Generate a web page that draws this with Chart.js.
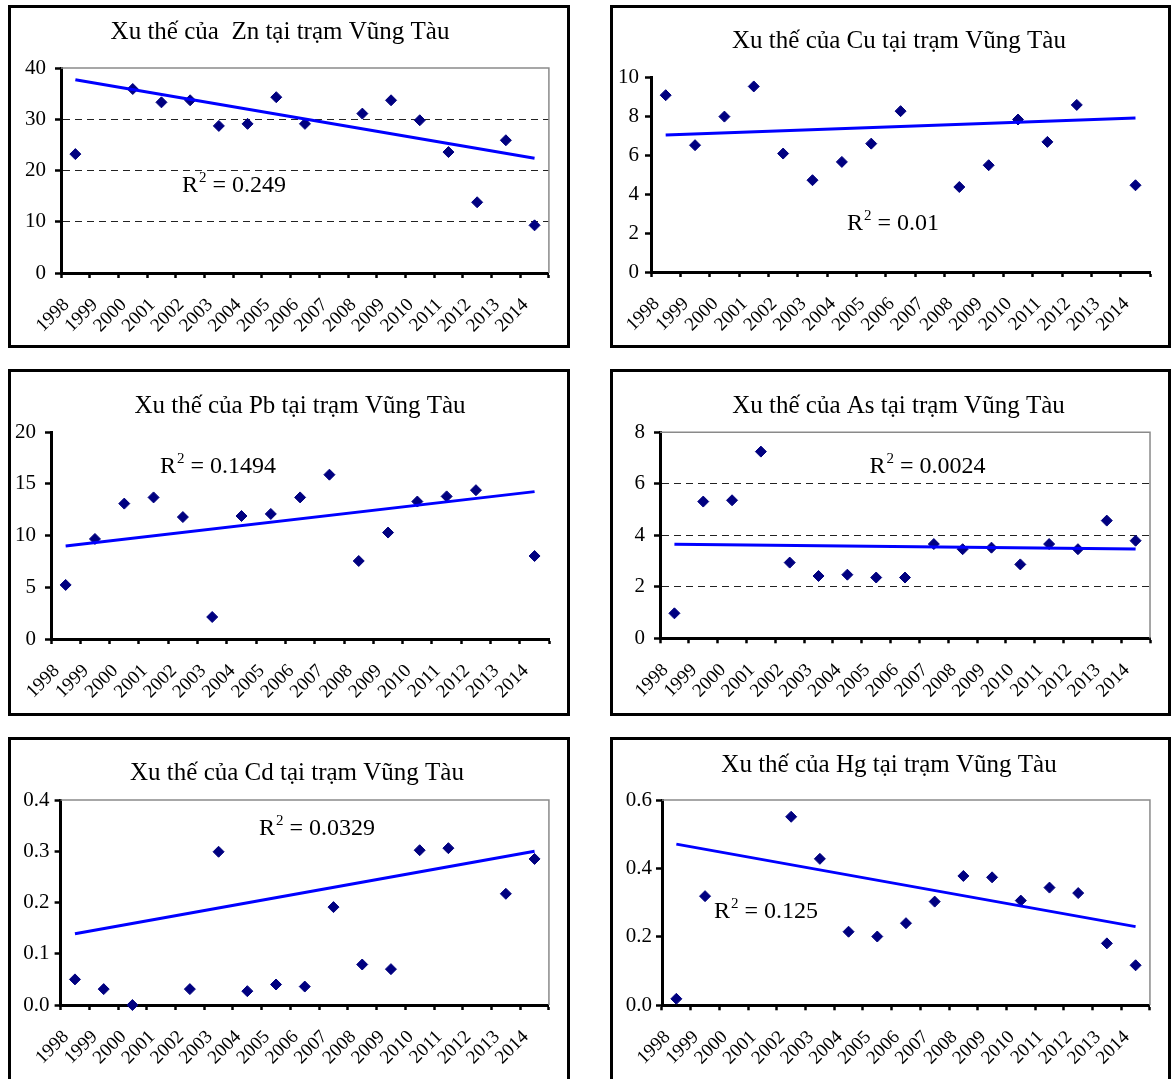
<!DOCTYPE html>
<html>
<head>
<meta charset="utf-8">
<script src="https://cdn.jsdelivr.net/npm/chart.js@4.4.1/dist/chart.umd.min.js"></script>
<style>
  html, body { margin: 0; padding: 0; background: #fff; }
  body { width: 1171px; height: 1079px; position: relative; overflow: hidden; }
  .panel { position: absolute; border: 3px solid #000; box-sizing: border-box; background: #fff; }
  .panel canvas { position: absolute; left: 0; top: 0; }
</style>
</head>
<body>
<div class="panel" style="left:8px;top:5px;width:562px;height:343px"><canvas id="c-zn" width="556" height="337"></canvas></div>
<div class="panel" style="left:610px;top:5px;width:561px;height:343px"><canvas id="c-cu" width="555" height="337"></canvas></div>
<div class="panel" style="left:8px;top:369px;width:562px;height:347px"><canvas id="c-pb" width="556" height="341"></canvas></div>
<div class="panel" style="left:610px;top:369px;width:561px;height:347px"><canvas id="c-as" width="555" height="341"></canvas></div>
<div class="panel" style="left:8px;top:737px;width:562px;height:360px"><canvas id="c-cd" width="556" height="354"></canvas></div>
<div class="panel" style="left:610px;top:737px;width:561px;height:360px"><canvas id="c-hg" width="555" height="354"></canvas></div>

<script>
// Năm quan trắc (trục hoành)
const years = ["1998", "1999", "2000", "2001", "2002", "2003", "2004", "2005", "2006",
               "2007", "2008", "2009", "2010", "2011", "2012", "2013", "2014"];

// Zn
const znValues = [23.2, null, 35.9, 33.3, 33.7, 28.7, 29.1, 34.3, 29.1, null, 31.1, 33.7, 29.8, 23.6, 13.8, 25.9, 9.3];
const znTrend = [37.7, 22.4];          // đầu / cuối đường xu thế
const znTicks = [0, 10, 20, 30, 40];
const znR2 = "0.249";

// Cu
const cuValues = [9.09, 6.52, 7.99, 9.54, 6.09, 4.72, 5.66, 6.6, 8.27, null, 4.37, 5.49, 7.84, 6.69, 8.59, null, 4.46];
const cuTrend = [7.05, 7.92];
const cuTicks = [0, 2, 4, 6, 8, 10];
const cuR2 = "0.01";

// Pb
const pbValues = [5.23, 9.68, 13.1, 13.7, 11.8, 2.13, 11.9, 12.1, 13.7, 15.9, 7.55, 10.3, 13.3, 13.8, 14.4, null, 8.03];
const pbTrend = [9.0, 14.26];
const pbTicks = [0, 5, 10, 15, 20];
const pbR2 = "0.1494";

// As
const asValues = [0.97, 5.31, 5.36, 7.25, 2.94, 2.42, 2.47, 2.36, 2.36, 3.66, 3.46, 3.52, 2.87, 3.66, 3.46, 4.57, 3.79];
const asTrend = [3.65, 3.47];
const asTicks = [0, 2, 4, 6, 8];
const asR2 = "0.0024";

// Cd
const cdValues = [0.05, 0.031, 0.0, null, 0.031, 0.299, 0.027, 0.04, 0.036, 0.191, 0.079, 0.07, 0.302, 0.306, null, 0.217, 0.285];
const cdTrend = [0.139, 0.3];
const cdTicks = [0, 0.1, 0.2, 0.3, 0.4];
const cdR2 = "0.0329";

// Hg
const hgValues = [0.019, 0.319, null, null, 0.551, 0.428, 0.215, 0.201, 0.24, 0.303, 0.378, 0.374, 0.306, 0.344, 0.328, 0.181, 0.117];
const hgTrend = [0.471, 0.23];
const hgTicks = [0, 0.2, 0.4, 0.6];
const hgR2 = "0.125";

const FONT = '"Liberation Serif", "Times New Roman", serif';

// đường xu thế: chỉ có điểm đầu và điểm cuối, nối bằng spanGaps
function trendSeries(trend) {
    return years.map((_, i) => i === 0 ? trend[0] : (i === years.length - 1 ? trend[1] : null));
}

// khung xám phía trên + bên phải vùng vẽ (kiểu Excel)
const plotFrame = {
    id: "plotFrame",
    beforeDatasetsDraw(chart, args, opts) {
        if (!opts.show) return;
        const { ctx, chartArea: a } = chart;
        ctx.save();
        ctx.strokeStyle = "#8a8a8a";
        ctx.lineWidth = 1.5;
        ctx.beginPath();
        ctx.moveTo(a.left, a.top);
        ctx.lineTo(a.right, a.top);
        ctx.lineTo(a.right, a.bottom);
        ctx.stroke();
        ctx.restore();
    }
};

// tiêu đề + nhãn R²
const panelText = {
    id: "panelText",
    afterDraw(chart, args, opts) {
        const ctx = chart.ctx;
        ctx.save();
        ctx.fillStyle = "#000";
        ctx.textBaseline = "alphabetic";
        ctx.font = "25px " + FONT;
        ctx.textAlign = "center";
        ctx.fillText(opts.title, opts.titleX, opts.titleY);

        ctx.font = "24px " + FONT;
        ctx.textAlign = "left";
        let x = opts.r2X;
        ctx.fillText("R", x, opts.r2Y);
        x += ctx.measureText("R").width;
        ctx.font = "15px " + FONT;
        ctx.fillText("2", x + 1, opts.r2Y - 10);
        x += ctx.measureText("2").width + 1;
        ctx.font = "24px " + FONT;
        ctx.fillText(" = " + opts.r2, x, opts.r2Y);
        ctx.restore();
    }
};

const panels = [
    { id: "c-zn", title: "Xu thế của  Zn tại trạm Vũng Tàu", values: znValues, trend: znTrend, ticks: znTicks, r2: znR2,
      decimals: 0, dashed: true, frame: true, yWidth: 50, yPad: 9, top: 60, right: 11, xHeight: 72,
      titleX: 269, titleY: 31, r2X: 171, r2Y: 184 },
    { id: "c-cu", title: "Xu thế của Cu tại trạm Vũng Tàu", values: cuValues, trend: cuTrend, ticks: cuTicks, r2: cuR2,
      decimals: 0, dashed: false, frame: false, yWidth: 38, yPad: 6, top: 69.5, right: 13, xHeight: 73,
      titleX: 286, titleY: 40, r2X: 234, r2Y: 222 },
    { id: "c-pb", title: "Xu thế của Pb tại trạm Vũng Tàu", values: pbValues, trend: pbTrend, ticks: pbTicks, r2: pbR2,
      decimals: 0, dashed: false, frame: false, yWidth: 40, yPad: 9, top: 60.3, right: 10.5, xHeight: 74,
      titleX: 289, titleY: 41, r2X: 149, r2Y: 101 },
    { id: "c-as", title: "Xu thế của As tại trạm Vũng Tàu", values: asValues, trend: asTrend, ticks: asTicks, r2: asR2,
      decimals: 0, dashed: true, frame: true, yWidth: 47, yPad: 9, top: 60.3, right: 9.4, xHeight: 74.7,
      titleX: 285.5, titleY: 41, r2X: 256.5, r2Y: 101 },
    { id: "c-cd", title: "Xu thế của Cd tại trạm Vũng Tàu", values: cdValues, trend: cdTrend, ticks: cdTicks, r2: cdR2,
      decimals: 1, dashed: false, frame: true, yWidth: 49.6, yPad: 5, top: 60, right: 10.5, xHeight: 89,
      titleX: 286, titleY: 40, r2X: 248, r2Y: 95 },
    { id: "c-hg", title: "Xu thế của Hg tại trạm Vũng Tàu", values: hgValues, trend: hgTrend, ticks: hgTicks, r2: hgR2,
      decimals: 1, dashed: false, frame: true, yWidth: 49, yPad: 4, top: 60, right: 9.4, xHeight: 88.7,
      titleX: 276, titleY: 32, r2X: 101, r2Y: 178 }
];

function makeChart(p) {
    const canvas = document.getElementById(p.id);
    const yMin = p.ticks[0];
    const yMax = p.ticks[p.ticks.length - 1];

    new Chart(canvas, {
        type: "line",
        data: {
            labels: years,
            datasets: [
                {
                    data: trendSeries(p.trend),
                    borderColor: "#0000ff",
                    borderWidth: 3,
                    pointRadius: 0,
                    spanGaps: true,
                    fill: false
                },
                {
                    data: p.values,
                    showLine: false,
                    pointStyle: "rectRot",
                    pointRadius: 5.5,
                    pointBackgroundColor: "#000080",
                    pointBorderColor: "#000080",
                    pointBorderWidth: 1,
                    clip: false
                }
            ]
        },
        options: {
            responsive: false,
            animation: false,
            events: [],
            layout: { padding: { left: 0, top: p.top, right: p.right, bottom: 0 } },
            plugins: {
                legend: { display: false },
                tooltip: { enabled: false },
                plotFrame: { show: p.frame },
                panelText: { title: p.title, titleX: p.titleX, titleY: p.titleY, r2: p.r2, r2X: p.r2X, r2Y: p.r2Y }
            },
            scales: {
                x: {
                    offset: true,
                    afterFit: s => { s.height = p.xHeight; },
                    grid: {
                        offset: true,
                        drawOnChartArea: false,
                        tickLength: 5,
                        tickColor: "#000",
                        tickWidth: 2.5
                    },
                    border: { color: "#000", width: 3 },
                    ticks: {
                        autoSkip: false,
                        minRotation: 45,
                        maxRotation: 45,
                        color: "#000",
                        font: { family: FONT, size: 19 },
                        padding: 16,
                        labelOffset: -9
                    }
                },
                y: {
                    min: yMin,
                    max: yMax,
                    afterBuildTicks: s => { s.ticks = p.ticks.map(v => ({ value: v })); },
                    afterFit: s => { s.width = p.yWidth; },
                    grid: {
                        drawOnChartArea: p.dashed,
                        color: c => (c.tick && c.tick.value > yMin && c.tick.value < yMax) ? "#222" : "rgba(0,0,0,0)",
                        lineWidth: 1,
                        tickLength: 6,
                        tickColor: "#000",
                        tickWidth: 2.5,
                        tickBorderDash: []
                    },
                    border: { color: "#000", width: 3, dash: [7, 5] },
                    ticks: {
                        color: "#000",
                        font: { family: FONT, size: 21 },
                        padding: p.yPad,
                        callback: v => Number(v).toFixed(p.decimals)
                    }
                }
            }
        },
        plugins: [plotFrame, panelText]
    });
}

panels.forEach(makeChart);
</script>
</body>
</html>
